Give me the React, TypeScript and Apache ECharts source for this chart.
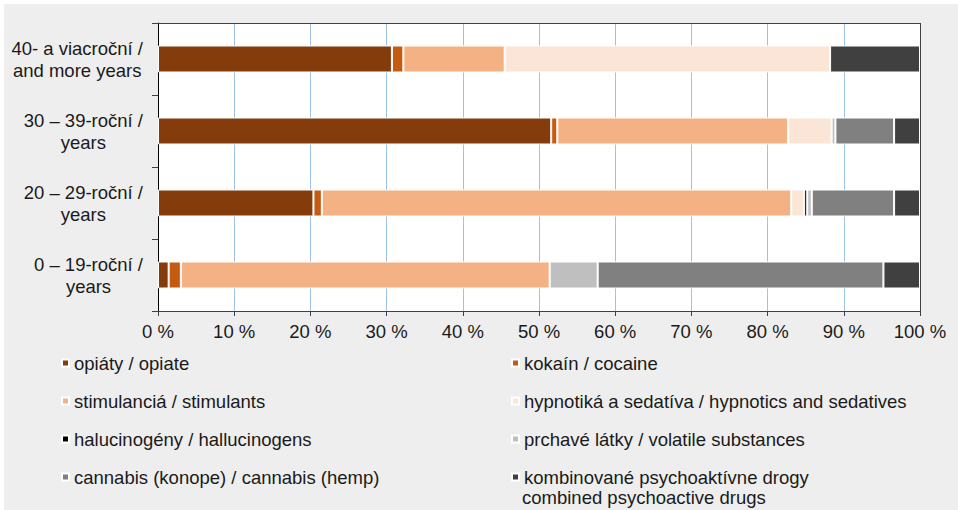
import React, { useEffect, useRef } from "react";
import * as echarts from "echarts";

const categories = [
  "0 – 19-roční /\nyears",
  "20 – 29-roční /\nyears",
  "30 – 39-roční /\nyears",
  "40- a viacroční /\nand more years",
];
const xTicks = [0, 10, 20, 30, 40, 50, 60, 70, 80, 90, 100];

const opiate = [1.4, 20.4, 51.6, 30.7];
const cocaine = [1.6, 1.1, 0.8, 1.5];
const stimulants = [48.4, 61.6, 30.3, 13.3];
const hypnotics = [0, 1.7, 5.7, 42.7];
const hallucinogens = [0, 0.4, 0, 0];
const volatile = [6.3, 0.6, 0.5, 0];
const cannabis = [37.5, 10.8, 7.7, 0];
const combined = [4.8, 3.4, 3.4, 11.8];

const seriesNames = [
  "opiáty / opiate",
  "kokaín / cocaine",
  "stimulanciá / stimulants",
  "hypnotiká a sedatíva / hypnotics and sedatives",
  "halucinogény / hallucinogens",
  "prchavé látky / volatile substances",
  "cannabis (konope) / cannabis (hemp)",
  "kombinované psychoaktívne drogy",
];
const combinedSecondLine = "combined psychoactive drugs";
const seriesValues = [opiate, cocaine, stimulants, hypnotics, hallucinogens, volatile, cannabis, combined];
const colors = ["#843C0C", "#C55A11", "#F4B183", "#FBE5D6", "#000000", "#BFBFBF", "#808080", "#404040"];

const FONT = "'Liberation Sans', Arial, sans-serif";
const FS = 18.5;

export default function App() {
  const ref = useRef<HTMLDivElement>(null);
  useEffect(() => {
    if (!ref.current) return;
    const chart = echarts.init(ref.current, undefined, { renderer: "svg" });
    const gridColors = xTicks.map((t) => (t === 100 ? "#404040" : "#9DC3E6"));
    const legendText = { fontFamily: FONT, fontSize: FS, lineHeight: 20, color: "#1a1a1a" };
    const option: any = {
      animation: false,
      graphic: [
        {
          type: "rect",
          z: -10,
          silent: true,
          shape: { x: 4, y: 4, width: 954, height: 506 },
          style: { fill: "#EEEEEE" },
        },
        {
          type: "rect",
          z: -9,
          silent: true,
          shape: { x: 158, y: 23, width: 762, height: 288 },
          style: { fill: "#FFFFFF" },
        },
        {
          type: "text",
          left: 522,
          top: 488,
          style: { text: combinedSecondLine, font: `${FS}px ${FONT}`, fill: "#1a1a1a" },
        },
      ],
      grid: { left: 158, right: 38, top: 23, bottom: 199, containLabel: false },
      xAxis: [
        {
          type: "value",
          min: 0,
          max: 100,
          interval: 10,
          axisLine: { show: true, lineStyle: { color: "#404040", width: 1 } },
          axisTick: { show: true, length: 5, lineStyle: { color: "#404040" } },
          axisLabel: {
            formatter: "{value} %",
            fontFamily: FONT,
            fontSize: FS,
            color: "#1a1a1a",
            margin: 11,
          },
          splitLine: { show: true, lineStyle: { color: gridColors, width: 1 } },
        },
        {
          type: "value",
          position: "top",
          min: 0,
          max: 100,
          axisLine: { show: true, lineStyle: { color: "#404040", width: 1 } },
          axisTick: { show: false },
          axisLabel: { show: false },
          splitLine: { show: false },
        },
      ],
      yAxis: {
        type: "category",
        data: categories,
        axisLine: { show: true, lineStyle: { color: "#000", width: 1 } },
        axisTick: { show: true, length: 6, lineStyle: { color: "#404040" } },
        axisLabel: {
          align: "right",
          margin: 15,
          formatter: (v: string) => v.split("\n").map((l) => `{c|${l}}`).join("\n"),
          rich: {
            c: { align: "center", fontFamily: FONT, fontSize: FS, lineHeight: 22, color: "#1a1a1a" },
          },
        },
      },
      legend: [
        {
          orient: "vertical",
          left: 61,
          top: 353,
          padding: 0,
          itemWidth: 7,
          itemHeight: 7,
          itemGap: 18,
          icon: "rect",
          data: [seriesNames[0], seriesNames[2], seriesNames[4], seriesNames[6]],
          textStyle: legendText,
          selectedMode: false,
        },
        {
          orient: "vertical",
          left: 511,
          top: 353,
          padding: 0,
          itemWidth: 7,
          itemHeight: 7,
          itemGap: 18,
          icon: "rect",
          data: [seriesNames[1], seriesNames[3], seriesNames[5], seriesNames[7]],
          textStyle: legendText,
          selectedMode: false,
        },
      ],
      series: seriesNames.map((name, i) => ({
        name,
        type: "bar",
        stack: "total",
        barWidth: 27,
        xAxisIndex: 0,
        data: seriesValues[i].map((v) => (v === 0 ? null : v)),
        itemStyle: { color: colors[i], borderColor: "#FFFFFF", borderWidth: 1 },
      })),
    };
    chart.setOption(option);
    return () => chart.dispose();
  }, []);
  return (
    <div
      ref={ref}
      style={{ position: "absolute", left: 0, top: 0, width: 958, height: 510 }}
    />
  );
}
